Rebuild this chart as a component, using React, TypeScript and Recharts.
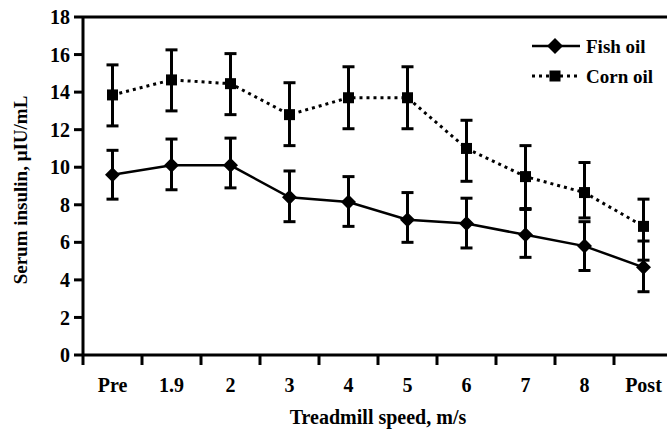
import React from "react";
import {
  LineChart,
  Line,
  XAxis,
  YAxis,
  ErrorBar,
  ReferenceLine,
  Legend,
  Label,
} from "recharts";

const categories = ["Pre", "1.9", "2", "3", "4", "5", "6", "7", "8", "Post"];

// Fish oil: mean, lower and upper error (SEM)
const fishOil = [9.6, 10.1, 10.1, 8.4, 8.15, 7.2, 7.0, 6.4, 5.8, 4.67];
const fishErrLow = [1.3, 1.3, 1.2, 1.3, 1.3, 1.2, 1.3, 1.2, 1.3, 1.3];
const fishErrHigh = [1.3, 1.4, 1.45, 1.4, 1.35, 1.45, 1.35, 1.4, 1.3, 1.4];

// Corn oil
const cornOil = [13.85, 14.65, 14.45, 12.8, 13.7, 13.7, 11.0, 9.5, 8.65, 6.85];
const cornErrLow = [1.65, 1.65, 1.65, 1.65, 1.65, 1.65, 1.75, 1.75, 1.35, 1.8];
const cornErrHigh = [1.6, 1.6, 1.6, 1.7, 1.65, 1.65, 1.5, 1.65, 1.6, 1.45];

const yTicks = [0, 2, 4, 6, 8, 10, 12, 14, 16, 18];
const seriesOrder = ["Fish oil", "Corn oil"];

const FONT = '"Liberation Serif", "Times New Roman", serif';
const CHART_W = 690;
const CHART_H = 431;
const MARGIN = { top: 17, right: 17, bottom: 0, left: 0 };
const Y_AXIS_W = 83;
const X_AXIS_H = 76;
const BAND = (CHART_W - MARGIN.left - MARGIN.right - Y_AXIS_W) / categories.length;

const data = categories.map((name, i) => ({
  idx: i,
  name,
  fish: fishOil[i],
  fishErr: [fishErrLow[i], fishErrHigh[i]],
  corn: cornOil[i],
  cornErr: [cornErrLow[i], cornErrHigh[i]],
}));

// ticks sit on the category boundaries, labels in the middle of each band
const xTicks = [...categories.map((_, i) => i - 0.5), categories.length - 0.5];

function BoundaryTick(props: any) {
  const { x, y, payload } = props;
  const label = categories[payload.value + 0.5];
  return (
    <g>
      <line x1={x} y1={y - 10} x2={x} y2={y} stroke="#000" strokeWidth={3} />
      {label !== undefined && (
        <text
          x={x + BAND / 2}
          y={y + 27}
          textAnchor="middle"
          fill="#000"
          fontSize={20}
          fontWeight="bold"
          fontFamily={FONT}
        >
          {label}
        </text>
      )}
    </g>
  );
}

const renderDiamond = (p: any) => {
  const { cx, cy, index } = p;
  const r = 7.5;
  return (
    <polygon
      key={`fd-${index}`}
      points={`${cx},${cy - r} ${cx + r},${cy} ${cx},${cy + r} ${cx - r},${cy}`}
      fill="#000"
    />
  );
};

const renderSquare = (p: any) => {
  const { cx, cy, index } = p;
  const s = 11;
  return <rect key={`cs-${index}`} x={cx - s / 2} y={cy - s / 2} width={s} height={s} fill="#000" />;
};

const legendStyle: { [key: string]: { dash?: string; width: number; marker: "diamond" | "square" } } = {
  "Fish oil": { width: 2.5, marker: "diamond" },
  "Corn oil": { dash: "3 4", width: 3, marker: "square" },
};

const renderLegend = (props: any) => {
  const payload = [...(props.payload || [])].sort(
    (a: any, b: any) => seriesOrder.indexOf(a.value) - seriesOrder.indexOf(b.value)
  );
  return (
    <svg width={140} height={62}>
      {payload.map((entry: any, i: number) => {
        const st = legendStyle[entry.value] || legendStyle["Fish oil"];
        const cy = 16 + i * 30;
        return (
          <g key={entry.value}>
            <line
              x1={4}
              y1={cy}
              x2={52}
              y2={cy}
              stroke="#000"
              strokeWidth={st.width}
              strokeDasharray={st.dash}
            />
            {st.marker === "diamond" ? (
              <polygon points={`27,${cy - 8} 35,${cy} 27,${cy + 8} 19,${cy}`} fill="#000" />
            ) : (
              <rect x={21.5} y={cy - 5.5} width={11} height={11} fill="#000" />
            )}
            <text
              x={58}
              y={cy + 6.5}
              fill="#000"
              fontSize={19}
              fontWeight="bold"
              fontFamily={FONT}
            >
              {entry.value}
            </text>
          </g>
        );
      })}
    </svg>
  );
};

export default function App() {
  return (
    <div
      style={{
        position: "absolute",
        top: 0,
        left: 0,
        width: 667,
        height: 431,
        overflow: "hidden",
        background: "#fff",
      }}
    >
      <LineChart width={CHART_W} height={CHART_H} data={data} margin={MARGIN}>
        <XAxis
          type="number"
          dataKey="idx"
          domain={[-0.5, categories.length - 0.5]}
          ticks={xTicks}
          interval={0}
          height={X_AXIS_H}
          tickSize={10}
          tickMargin={0}
          tickLine={false}
          axisLine={{ stroke: "#000", strokeWidth: 3 }}
          tick={<BoundaryTick />}
        >
          <Label
            content={(p: any) => {
              const vb = p.viewBox || { x: Y_AXIS_W, y: 355, width: 590, height: X_AXIS_H };
              return (
                <text
                  x={vb.x + vb.width / 2}
                  y={vb.y + 69}
                  textAnchor="middle"
                  fill="#000"
                  fontSize={20}
                  fontWeight="bold"
                  fontFamily={FONT}
                >
                  Treadmill speed, m/s
                </text>
              );
            }}
          />
        </XAxis>
        <YAxis
          type="number"
          domain={[0, 18]}
          ticks={yTicks}
          interval={0}
          width={Y_AXIS_W}
          tickSize={9}
          tickMargin={4}
          axisLine={{ stroke: "#000", strokeWidth: 3 }}
          tickLine={{ stroke: "#000", strokeWidth: 3 }}
          tick={{ fill: "#000", fontSize: 20, fontWeight: "bold", fontFamily: FONT }}
        >
          <Label
            content={(p: any) => {
              const vb = p.viewBox || { x: 0, y: MARGIN.top, height: 338 };
              const cx = vb.x + 27;
              const cy = vb.y + vb.height / 2 + 4;
              return (
                <text
                  x={cx}
                  y={cy}
                  transform={`rotate(-90, ${cx}, ${cy})`}
                  textAnchor="middle"
                  fill="#000"
                  fontSize={19}
                  fontWeight="bold"
                  fontFamily={FONT}
                >
                  Serum insulin, μIU/mL
                </text>
              );
            }}
          />
        </YAxis>
        <ReferenceLine y={18} stroke="#000" strokeWidth={3} />
        <Legend
          layout="horizontal"
          verticalAlign="middle"
          align="center"
          wrapperStyle={{ top: 30, left: 528, width: 140, height: 62 }}
          content={renderLegend}
        />
        <Line
          name="Fish oil"
          dataKey="fish"
          type="linear"
          stroke="#000"
          strokeWidth={2.5}
          dot={renderDiamond}
          activeDot={false}
          isAnimationActive={false}
        >
          <ErrorBar
            dataKey="fishErr"
            direction="y"
            width={6}
            stroke="#000"
            strokeWidth={3}
            isAnimationActive={false}
          />
        </Line>
        <Line
          name="Corn oil"
          dataKey="corn"
          type="linear"
          stroke="#000"
          strokeWidth={3}
          strokeDasharray="3 4"
          dot={renderSquare}
          activeDot={false}
          isAnimationActive={false}
        >
          <ErrorBar
            dataKey="cornErr"
            direction="y"
            width={6}
            stroke="#000"
            strokeWidth={3}
            isAnimationActive={false}
          />
        </Line>
      </LineChart>
    </div>
  );
}
